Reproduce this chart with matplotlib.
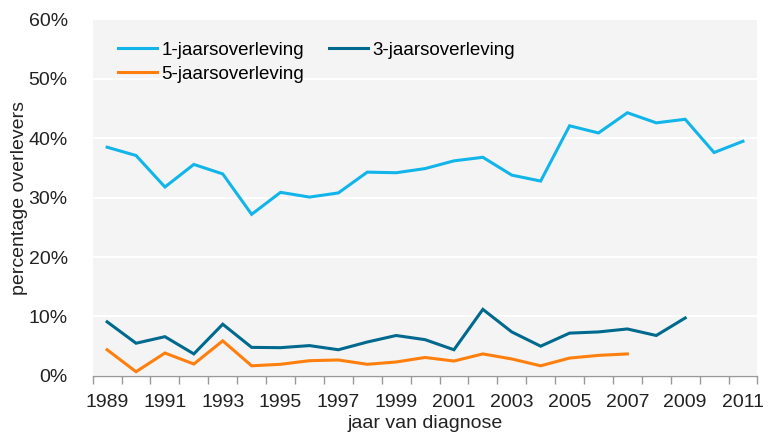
import matplotlib
matplotlib.use("Agg")
import matplotlib.pyplot as plt
import numpy as np

years = list(range(1989, 2012))
one_year = [38.5, 37.1, 31.8, 35.6, 34.0, 27.2, 30.9, 30.1, 30.8, 34.3, 34.2, 34.9,
            36.2, 36.8, 33.8, 32.8, 42.1, 40.9, 44.3, 42.6, 43.2, 37.6, 39.5]
three_year = [9.1, 5.5, 6.6, 3.7, 8.7, 4.8, 4.75, 5.1, 4.4, 5.7, 6.8, 6.1,
              4.4, 11.2, 7.4, 5.0, 7.2, 7.4, 7.9, 6.8, 9.75]
five_year = [4.4, 0.7, 3.85, 2.0, 5.9, 1.7, 1.95, 2.56, 2.68, 1.95, 2.34, 3.1,
             2.5, 3.7, 2.85, 1.7, 3.0, 3.45, 3.7]
labels = ["1-jaarsoverleving", "3-jaarsoverleving", "5-jaarsoverleving"]
colors = ["#12b5ea", "#006a8e", "#ff7f0e"]

plt.rcParams['font.family'] = ['Liberation Sans', 'DejaVu Sans']

fig = plt.figure(figsize=(7.71, 4.33), dpi=100)
ax = fig.add_axes([0.1202, 0.1319, 0.9824 - 0.1202, 0.955 - 0.1319])
ax.set_facecolor("#f4f4f4")

series = [one_year, three_year, five_year]
lines = []
for vals, lab, col in zip(series, labels, colors):
    x = np.arange(len(vals))
    l, = ax.plot(x, vals, color=col, lw=2.2, label=lab, solid_joinstyle='miter')
    lines.append(l)

ax.set_xlim(-0.5, len(years) - 0.5)
ax.set_ylim(0, 60)
ax.set_yticks(range(0, 61, 10))
ax.set_yticklabels([f"{v}%" for v in range(0, 61, 10)])
ax.grid(axis='y', color='white', lw=1.5)
ax.set_axisbelow(True)

ax.set_xticks(range(0, len(years), 2))
ax.set_xticklabels([str(y) for y in years[::2]])
ax.set_xticks(np.arange(-0.5, len(years) + 0.5, 1), minor=True)
ax.tick_params(axis='x', which='major', length=0, pad=13, labelsize=14, colors='#222222')
ax.tick_params(axis='x', which='minor', length=6, color='#999999', width=1)
ax.tick_params(axis='y', length=0, pad=18, labelsize=14, colors='#222222')

for s in ['top', 'right', 'left']:
    ax.spines[s].set_visible(False)
ax.spines['bottom'].set_color('#999999')
ax.spines['bottom'].set_linewidth(1)

ax.set_xlabel("jaar van diagnose", fontsize=14, color='#222222', labelpad=3)
ax.set_ylabel("percentage overlevers", fontsize=14, color='#222222', labelpad=0)

# order so that row 1 = 1-jaars, 3-jaars ; row 2 = 5-jaars
order = [0, 2, 1]
leg = ax.legend(handles=[lines[i] for i in order], ncol=2, loc='upper left', frameon=False,
                fontsize=13.5, bbox_to_anchor=(0.012, 0.985), handlelength=2.1,
                handletextpad=0.25, columnspacing=1.3, labelspacing=0.35)

fig.savefig("out.png", dpi=100)
